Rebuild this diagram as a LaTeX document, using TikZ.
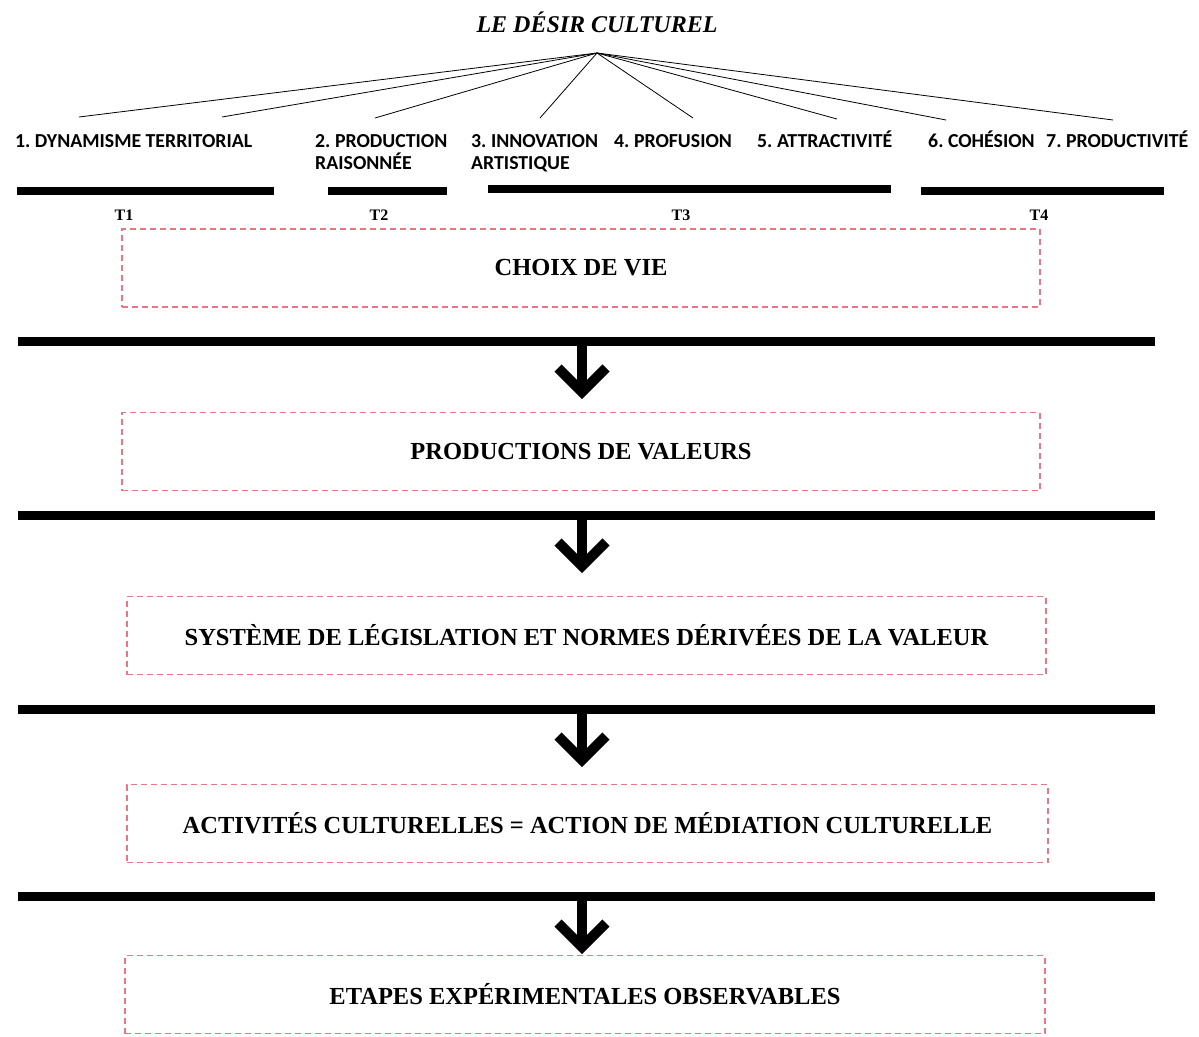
\documentclass[tikz,border=0pt]{standalone}
\usepackage{fontspec}
\setmainfont{Liberation Serif}
\newfontfamily\lblfont{Carlito}
\definecolor{boxred}{RGB}{232,118,132}
\begin{document}
\frenchspacing
\begin{tikzpicture}[x=1pt,y=-1pt,
  boxstyle/.style={draw=boxred, dash pattern=on 6pt off 4pt, line width=1.3pt,
    minimum height=78pt, inner sep=0pt,
    font=\fontsize{24.5}{28}\selectfont\bfseries},
  lbl/.style={font=\lblfont\bfseries\fontsize{19.8}{22}\selectfont, anchor=base west, inner sep=0pt, align=left},
  tlbl/.style={font=\fontsize{16}{18}\selectfont\bfseries, inner sep=0pt},
  bar/.style={line width=8pt},
  hbar/.style={line width=9pt},
  fan/.style={line width=0.8pt},
  stem/.style={line width=10pt},
  chev/.style={line width=10pt, miter limit=10},
]
\useasboundingbox (0,0) rectangle (1199,1036);

% title and fan
\node[font=\fontsize{24}{28}\selectfont\bfseries\itshape, inner sep=0pt] (title) at (597,22) {LE DÉSIR CULTUREL};
\coordinate (apex) at (597,53);
\coordinate (e1) at (79,117);
\coordinate (e2) at (222,117);
\coordinate (e3) at (375,118);
\coordinate (e4) at (540,118);
\coordinate (e5) at (693,118);
\coordinate (e6) at (837,119);
\coordinate (e7) at (946,120);
\coordinate (e8) at (1113,120);
\foreach \e in {e1,e2,e3,e4,e5,e6,e7,e8} \draw[fan] (apex) -- (\e);

% labels
\node[lbl] (l1) at (15,147) {1. DYNAMISME TERRITORIAL};
\node[lbl] (l2) at (315,169) {2. PRODUCTION\\RAISONNÉE};
\node[lbl] (l3) at (471,169) {3. INNOVATION\\ARTISTIQUE};
\node[lbl] (l4) at (614,147) {4. PROFUSION};
\node[lbl] (l5) at (757,147) {5. ATTRACTIVITÉ};
\node[lbl] (l6) at (928,147) {6. COHÉSION};
\node[lbl] (l7) at (1046,147) {7. PRODUCTIVITÉ};

% period bars
\draw[bar] (17,191) -- (274,191);
\draw[bar] (328,190.5) -- (447,190.5);
\draw[bar] (488,188.5) -- (891,188.5);
\draw[bar] (921,190.5) -- (1164,190.5);
\node[tlbl] (t1) at (124,215) {T1};
\node[tlbl] (t2) at (379,215) {T2};
\node[tlbl] (t3) at (681,215) {T3};
\node[tlbl] (t4) at (1039,215) {T4};

% boxes
\node[boxstyle, minimum width=918pt] (b1) at (581,268) {CHOIX DE VIE};
\node[boxstyle, minimum width=918pt] (b2) at (581,451.5) {PRODUCTIONS DE VALEURS};
\node[boxstyle, minimum width=919pt] (b3) at (586.5,635.5) {SYSTÈME DE LÉGISLATION ET NORMES DÉRIVÉES DE LA VALEUR};
\node[boxstyle, minimum width=921pt] (b4) at (587.5,823.5) {ACTIVITÉS CULTURELLES = ACTION DE MÉDIATION CULTURELLE};
\node[boxstyle, minimum width=920pt] (b5) at (585,994.5) {ETAPES EXPÉRIMENTALES OBSERVABLES};

% separators and arrows
\foreach \y in {341,515,709,896} {
  \draw[hbar] (18,\y) -- (1155,\y);
  \draw[stem] (582,\y) -- (582,\y+49);
  \draw[chev] (558,\y+27) -- (582,\y+51) -- (606,\y+27);
}
\end{tikzpicture}
\end{document}
